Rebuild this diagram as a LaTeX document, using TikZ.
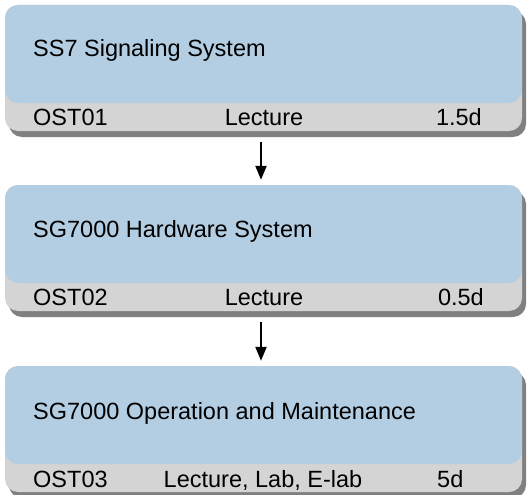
\documentclass[tikz,border=0pt]{standalone}
\usepackage{fontspec}
\setmainfont{Liberation Sans}
\usetikzlibrary{arrows.meta,shadows}
\definecolor{boxblue}{RGB}{179,206,227}
\definecolor{stripgray}{RGB}{212,212,212}
\definecolor{shadowgray}{RGB}{128,128,128}
\tikzset{
  course/.style={draw=none, fill=stripgray, rounded corners=13pt,
    minimum width=517pt, minimum height=126pt, inner sep=0pt,
    drop shadow={shadow xshift=4pt, shadow yshift=-6pt, fill=shadowgray, opacity=1},
    path picture={\fill[boxblue] ([yshift=28pt]path picture bounding box.south west) rectangle (path picture bounding box.north east);}},
  txt/.style={inner sep=0pt, font=\fontsize{23.5}{28}\selectfont},
  flow/.style={line width=2.2pt, -{Triangle[length=14pt,width=11pt]}}
}
\begin{document}
\begin{tikzpicture}[x=1pt,y=-1pt]
\useasboundingbox (0,0) rectangle (530,495);
% boxes
\node[course] (b1) at (263.5,68) {};
\node[course] (b2) at (263.5,248) {};
\node[course] (b3) at (263.5,429) {};
% box 1 texts
\node[txt, anchor=base west] (t1) at (33,57) {SS7 Signaling System};
\node[txt, anchor=base west] (c1) at (33,125) {OST01};
\node[txt, anchor=base] (m1) at (264,125) {Lecture};
\node[txt, anchor=base east] (d1) at (482,125) {1.5d};
% box 2 texts
\node[txt, anchor=base west] (t2) at (33,237) {SG7000 Hardware System};
\node[txt, anchor=base west] (c2) at (33,305) {OST02};
\node[txt, anchor=base] (m2) at (264,305) {Lecture};
\node[txt, anchor=base east] (d2) at (484,305) {0.5d};
% box 3 texts
\node[txt, anchor=base west] (t3) at (33,419) {SG7000 Operation and Maintenance};
\node[txt, anchor=base west] (c3) at (33,487) {OST03};
\node[txt, anchor=base] (m3) at (263,487) {Lecture, Lab, E-lab};
\node[txt, anchor=base west] (d3) at (437,487) {5d};
% arrows
\draw[flow] ([xshift=-2.5pt,yshift=-11pt]b1.south) -- ([xshift=-2.5pt,yshift=5pt]b2.north);
\draw[flow] ([xshift=-2.5pt,yshift=-11pt]b2.south) -- ([xshift=-2.5pt,yshift=5pt]b3.north);
\end{tikzpicture}
\end{document}
